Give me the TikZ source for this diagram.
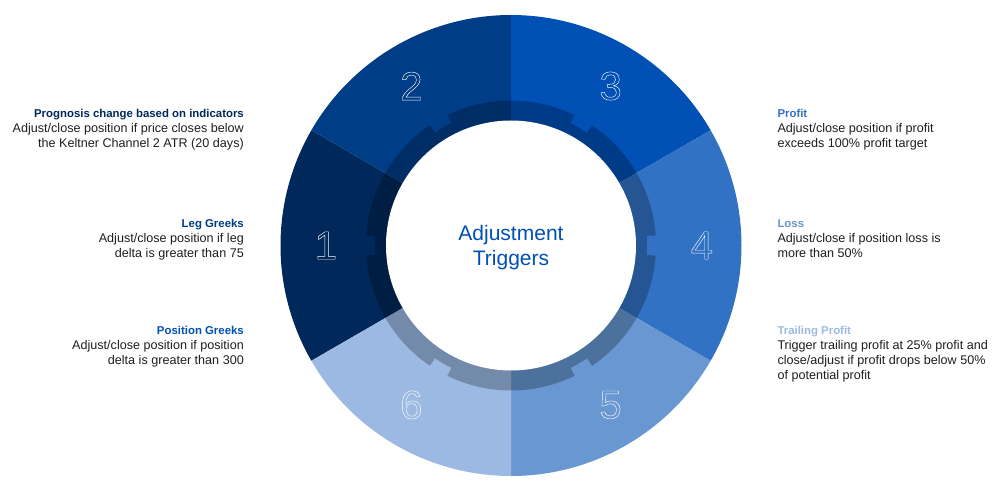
\documentclass[tikz,border=0pt]{standalone}
\usepackage{fontspec}
\setmainfont{Liberation Sans}
\usepackage{tikz}
\definecolor{seg1}{HTML}{00285A}
\definecolor{seg2}{HTML}{003D87}
\definecolor{seg3}{HTML}{0050B5}
\definecolor{seg4}{HTML}{3272C4}
\definecolor{seg5}{HTML}{6897D2}
\definecolor{seg6}{HTML}{9BB9E3}
\definecolor{bodytext}{HTML}{1E1E1E}
\def\hollow#1{\special{pdf:literal direct 1 Tr 0.45 w}#1\special{pdf:literal direct 0 Tr}}
\def\ttl#1#2{\rule{0pt}{10pt}\textcolor{#1}{\fontsize{11.4}{15}\selectfont\bfseries #2}}

\begin{document}
\begin{tikzpicture}[x=1pt, y=1pt,
    digit/.style={text=white, font=\fontsize{40}{40}\selectfont, inner sep=0pt},
    lbl/.style={text=bodytext, font=\fontsize{12.6}{15}\selectfont, inner sep=0pt}]
  \useasboundingbox (-511,-254.5) rectangle (489,245.5);
  % ring segments
  \foreach \n/\a in {1/150,2/90,3/30,4/-30,5/-90,6/-150}{
    \fill[seg\n] (0,0) -- (\a:230.5pt) arc[start angle=\a, delta angle=60, radius=230.5pt] -- cycle;
  }
  % gear band
  \fill[black, fill opacity=.25] (4:145pt)
    \foreach \k in {0,...,5}{
      arc[start angle={60*\k+4}, end angle={60*\k+56}, radius=145pt]
      -- ({60*\k+56}:136pt) arc[start angle={60*\k+56}, end angle={60*\k+64}, radius=136pt]
      -- ({60*\k+64}:145pt)
    } -- cycle;
  \fill[white] (0,0) circle[radius=125pt];
  \node[font=\fontsize{21}{25}\selectfont, text=seg3, align=center, inner sep=0pt] (title) at (0,-2) {Adjustment\\Triggers};
  % numbers
  \foreach \n/\a/\r in {1/180/185, 2/122/188, 3/58/188, 4/0/191, 5/-58/188, 6/-122/188}{
    \node[digit] (n\n) at (\a:\r pt) {\hollow{\n}};
  }
  % left labels
  \node[lbl, align=right, anchor=north east] (prog) at (-267,138.5)
    {\ttl{seg1}{Prognosis change based on indicators}\\Adjust/close position if price closes below\\the Keltner Channel 2 ATR (20 days)};
  \node[lbl, align=right, anchor=north east] (leg) at (-267,28.5)
    {\ttl{seg2}{Leg Greeks}\\Adjust/close position if leg\\delta is greater than 75};
  \node[lbl, align=right, anchor=north east] (pos) at (-267,-78.8)
    {\ttl{seg3}{Position Greeks}\\Adjust/close position if position\\delta is greater than 300};
  % right labels
  \node[lbl, align=left, anchor=north west] (profit) at (266.3,138.5)
    {\ttl{seg4}{Profit}\\Adjust/close position if profit\\exceeds 100\% profit target};
  \node[lbl, align=left, anchor=north west] (loss) at (266.3,28.5)
    {\ttl{seg5}{Loss}\\Adjust/close if position loss is\\more than 50\%};
  \node[lbl, align=left, anchor=north west] (trail) at (266.3,-78.8)
    {\ttl{seg6}{Trailing Profit}\\Trigger trailing profit at 25\% profit and\\close/adjust if profit drops below 50\%\\of potential profit};
\end{tikzpicture}
\end{document}
